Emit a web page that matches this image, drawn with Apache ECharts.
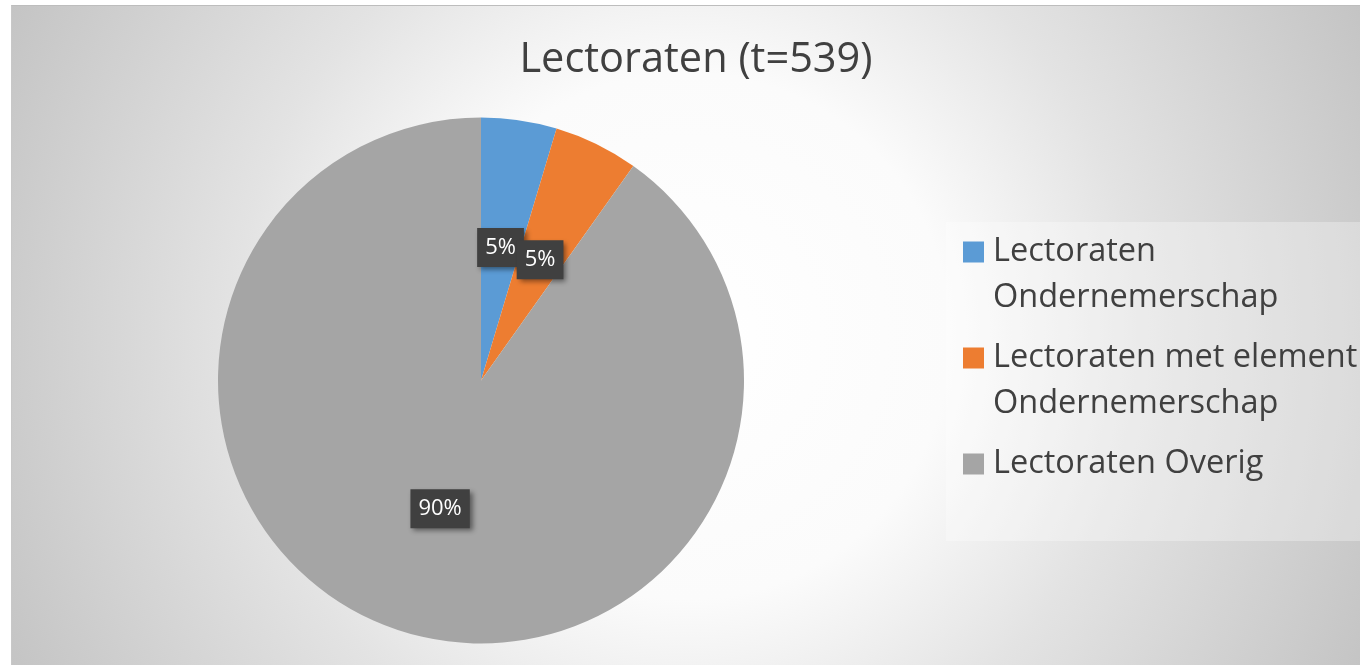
<!DOCTYPE html>
<html>
<head>
<meta charset="utf-8">
<title>Lectoraten (t=539)</title>
<script src="https://cdn.jsdelivr.net/npm/echarts@6/dist/echarts.min.js"></script>
<style>
  html, body { margin: 0; padding: 0; background: #fff; overflow: hidden; }
  /* chart frame, cut off at the right and bottom like the reference */
  #chart {
    position: absolute;
    left: 11px;
    top: 5px;
    width: 1349px;
    height: 660px;
    border-top: 1px solid #bdbdbd;
    border-left: 1px solid #c8c8c8;
  }
</style>
</head>
<body>
<div id="chart"></div>
<script>
// data
const titleText = 'Lectoraten (t=539)'
const categories = ['Lectoraten Ondernemerschap', 'Lectoraten met element Ondernemerschap', 'Lectoraten Overig']
const legendLines = [['Lectoraten', 'Ondernemerschap'], ['Lectoraten met element', 'Ondernemerschap'], ['Lectoraten Overig']]
const counts = [25, 28, 486]
const colors = ['#5b9bd5', '#ed7d31', '#a5a5a5']

const LINE_H = 46

// pad every legend label to 3 lines with the first real line in the middle,
// so the square lines up with the first line of text
function legendText(name) {
  const lines = legendLines[categories.indexOf(name)].slice()
  while (lines.length < 2) lines.push('')
  return '\n' + lines.join('\n')
}

const chart = echarts.init(document.getElementById('chart'))

chart.setOption({
  backgroundColor: new echarts.graphic.RadialGradient(0.5, 0.5, 1.14, [
    { offset: 0, color: '#ffffff' },
    { offset: 0.35, color: '#fbfbfb' },
    { offset: 0.6, color: '#e3e3e3' },
    { offset: 1, color: '#c4c4c4' }
  ]),
  title: {
    text: titleText,
    left: 679,
    top: 28,
    textAlign: 'center',
    textStyle: {
      fontFamily: 'Open Sans',
      fontSize: 41.5,
      fontWeight: 'normal',
      color: '#404040'
    }
  },
  legend: {
    orient: 'vertical',
    left: 934,
    top: 216,
    icon: 'rect',
    itemWidth: 21,
    itemHeight: 21,
    itemGap: 106 - 3 * LINE_H,
    padding: [-39, 20, 8, 17],
    backgroundColor: 'rgba(255,255,255,0.3)',
    selectedMode: false,
    data: categories,
    formatter: legendText,
    textStyle: {
      fontFamily: 'Open Sans',
      fontSize: 32.5,
      lineHeight: LINE_H,
      padding: [0, 0, 0, 4],
      color: '#404040'
    }
  },
  series: [
    {
      type: 'pie',
      center: [469, 374.5],
      radius: 263,
      startAngle: 90,
      clockwise: true,
      avoidLabelOverlap: false,
      emphasis: { disabled: true },
      data: categories.map((name, i) => ({
        name,
        value: counts[i],
        itemStyle: { color: colors[i] }
      })),
      label: {
        show: true,
        position: 'inside',
        formatter: p => Math.round(p.percent) + '%',
        fontFamily: 'Open Sans',
        fontSize: 22,
        color: '#ffffff',
        backgroundColor: '#404040',
        padding: [9, 8, 8, 8],
        shadowColor: 'rgba(0,0,0,0.45)',
        shadowBlur: 5,
        shadowOffsetX: 3,
        shadowOffsetY: 3
      },
      labelLine: { show: false },
      labelLayout: { hideOverlap: false }
    }
  ]
})

window.addEventListener('resize', () => chart.resize())
</script>
</body>
</html>
